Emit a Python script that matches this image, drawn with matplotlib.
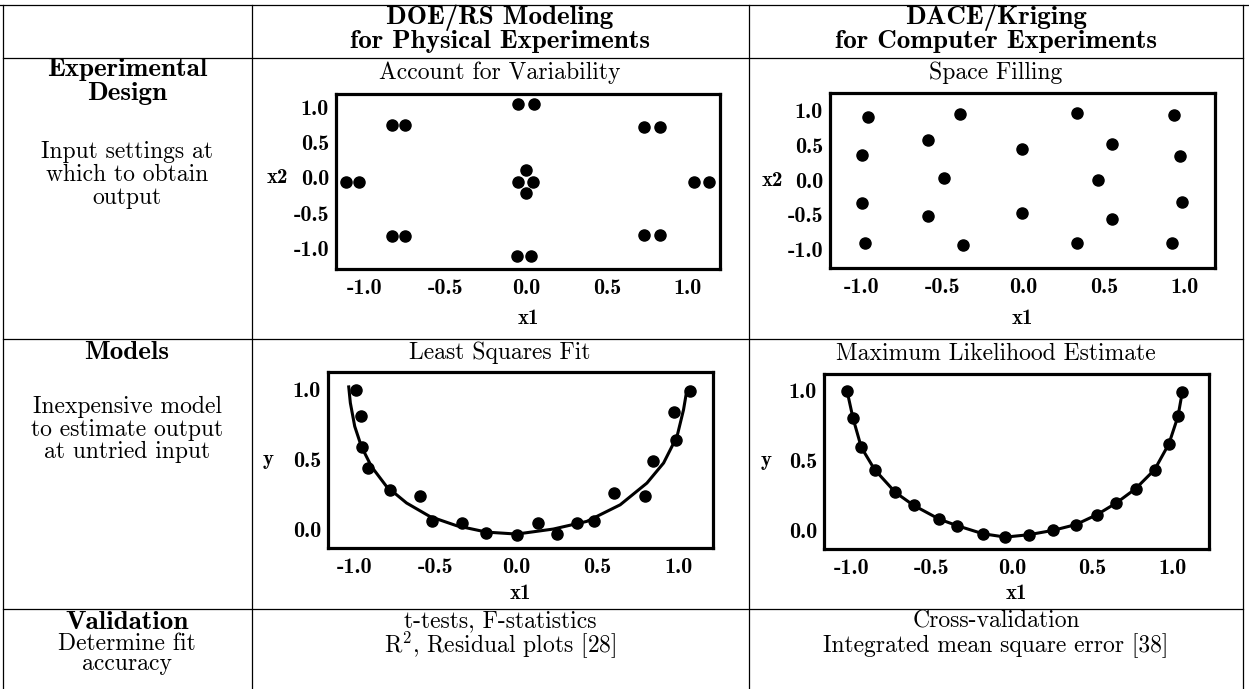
import matplotlib
matplotlib.use("Agg")
import matplotlib.pyplot as plt

plt.rcParams['axes.unicode_minus'] = False
plt.rcParams['mathtext.fontset'] = 'cm'

W, H = 1249, 689

# --- data ---
# DOE design (central composite with replicates)
doe_x1 = [-1.12, -1.04, -0.83, -0.75, -0.83, -0.75, -0.05, 0.05, -0.06, 0.03,
          0.73, 0.83, 0.73, 0.83, 1.04, 1.13, 0.0, -0.05, 0.04, 0.0]
doe_x2 = [-0.05, -0.05, 0.75, 0.75, -0.82, -0.82, 1.05, 1.05, -1.1, -1.1,
          0.72, 0.72, -0.81, -0.81, -0.05, -0.05, 0.12, -0.05, -0.05, -0.22]

# space filling design
sf_x1 = [-0.96, -0.39, 0.33, 0.93, -0.59, -0.01, 0.55, -1.0, 0.97, -0.49,
         0.46, -1.0, 0.98, -0.59, -0.01, 0.55, -0.98, -0.37, 0.33, 0.92]
sf_x2 = [0.9, 0.94, 0.96, 0.93, 0.58, 0.45, 0.52, 0.36, 0.35, 0.03,
         0.0, -0.33, -0.32, -0.51, -0.47, -0.56, -0.9, -0.93, -0.9, -0.9]

# least squares: observations and fitted curve
ls_x = [-0.99, -0.96, -0.955, -0.92, -0.78, -0.6, -0.52, -0.34, -0.19, -0.0,
        0.13, 0.25, 0.37, 0.48, 0.6, 0.79, 0.84, 0.985, 0.97, 1.07]
ls_y = [0.995, 0.81, 0.59, 0.44, 0.28, 0.24, 0.055, 0.04, -0.03, -0.046,
        0.043, -0.036, 0.043, 0.055, 0.26, 0.24, 0.485, 0.64, 0.84, 0.99]
ls_fit_x = [-1.037, -1.027, -1.0, -0.959, -0.897, -0.804, -0.68, -0.536, -0.371,
            -0.186, 0.0, 0.226, 0.433, 0.639, 0.804, 0.907, 0.99, 1.03, 1.051]
ls_fit_y = [1.02, 0.905, 0.737, 0.593, 0.449, 0.306, 0.187, 0.09, 0.024,
            -0.022, -0.036, 0.0, 0.055, 0.174, 0.33, 0.474, 0.665, 0.856, 1.0]

# kriging: observations (curve interpolates them)
mle_x = [-1.027, -0.99, -0.938, -0.855, -0.726, -0.613, -0.455, -0.343, -0.182, -0.042,
         0.103, 0.254, 0.395, 0.527, 0.648, 0.768, 0.886, 0.975, 1.031, 1.058]
mle_y = [0.998, 0.803, 0.593, 0.434, 0.271, 0.179, 0.081, 0.034, -0.024, -0.048,
         -0.031, 0.0, 0.041, 0.112, 0.196, 0.298, 0.434, 0.619, 0.814, 0.989]

ticks_x = [-1.0, -0.5, 0.0, 0.5, 1.0]
ticks_xy = [-1.0, -0.5, 0.0, 0.5, 1.0]
ticks_y = [0.0, 0.5, 1.0]

REG = 'cmr10'
BLD = 'cmb10'
HEAD = 19.5

fig = plt.figure(figsize=(W / 100, H / 100), dpi=100)
bg = fig.add_axes([0, 0, 1, 1])
bg.set_xlim(0, W)
bg.set_ylim(H, 0)
bg.axis('off')

# table grid
lw_t = 0.9
bg.plot([0, W], [5, 5], color='black', lw=lw_t)
for yy in [58, 339, 609]:
    bg.plot([3, 1243], [yy, yy], color='black', lw=lw_t)
for xx in [3, 252, 749, 1243]:
    bg.plot([xx, xx], [5, H], color='black', lw=lw_t)


def txt(x, y, s, bold=False, size=17, ls=1.0):
    # multi-line strings: y is the baseline of the last line
    bg.text(x, y, s, ha='center', va='baseline', fontsize=size,
            family=BLD if bold else REG, linespacing=ls, multialignment='center')


c1, c2, c3 = 127, 500, 996
txt(c2, 48, 'DOE/RS Modeling\nfor Physical Experiments', True, HEAD, 0.95)
txt(c3, 48, 'DACE/Kriging\nfor Computer Experiments', True, HEAD, 0.95)

txt(c1, 76, 'Experimental', True, HEAD)
txt(c1, 100, 'Design', True, HEAD)
txt(c1, 158, 'Input settings at')
txt(c1, 181, 'which to obtain')
txt(c1, 204, 'output')

txt(c1, 359, 'Models', True, HEAD)
txt(c1, 413, 'Inexpensive model')
txt(c1, 436, 'to estimate output')
txt(c1, 458, 'at untried input')

txt(c1, 629, 'Validation', True, HEAD)
txt(c1, 650, 'Determine fit')
txt(c1, 670, 'accuracy')

txt(c2, 79, 'Account for Variability')
txt(c3, 79, 'Space Filling')
txt(c2, 359, 'Least Squares Fit')
txt(c3, 360, 'Maximum Likelihood Estimate')

txt(c2, 652, 't-tests, F-statistics\n' + r'R$^2$, Residual plots [28]', ls=0.86)
txt(c3, 652, 'Cross-validation\nIntegrated mean square error [38]', ls=1.05)


def panel(left, top, right, bottom, xlim, ylim, yticks, ylab, ylab_at, xlab_y, ylab_x):
    ax = fig.add_axes([left / W, 1 - bottom / H, (right - left) / W, (bottom - top) / H])
    ax.set_xlim(*xlim)
    ax.set_ylim(*ylim)
    for sp in ax.spines.values():
        sp.set_linewidth(2.3)
    ax.set_xticks(ticks_x)
    ax.set_xticklabels(['%.1f' % v for v in ticks_x], family=BLD, fontsize=16)
    ax.set_yticks(yticks)
    ax.set_yticklabels(['%.1f' % v for v in yticks], family=BLD, fontsize=16)
    ax.tick_params(axis='y', length=0, pad=5)
    ax.tick_params(axis='x', length=0, pad=7)
    # axis labels placed in table coordinates
    txt((left + right) / 2, xlab_y, 'x1', True, 15)
    cy = ax.transData.transform((0, ylab_at))[1]
    bg.text(ylab_x, H - cy, ylab, ha='center', va='center', fontsize=15, family=BLD)
    return ax


ax1 = panel(336, 94, 720, 269, (-1.18, 1.2), (-1.29, 1.19), ticks_xy, 'x2', 0.0, 324, 277)
ax1.plot(doe_x1, doe_x2, 'o', color='black', ms=8)

ax2 = panel(830, 93, 1215, 268, (-1.195, 1.186), (-1.26, 1.247), ticks_xy, 'x2', 0.0, 324, 772)
ax2.plot(sf_x1, sf_x2, 'o', color='black', ms=8)

ax3 = panel(328, 372, 713, 548, (-1.165, 1.212), (-0.136, 1.127), ticks_y, 'y', 0.5, 599, 268)
ax3.plot(ls_fit_x, ls_fit_y, color='black', lw=2.2)
ax3.plot(ls_x, ls_y, 'o', color='black', ms=8)

ax4 = panel(824, 374, 1209, 549, (-1.17, 1.224), (-0.133, 1.117), ticks_y, 'y', 0.5, 599, 766)
ax4.plot(mle_x, mle_y, '-o', color='black', lw=2.2, ms=8)

fig.savefig('out.png', dpi=100)
